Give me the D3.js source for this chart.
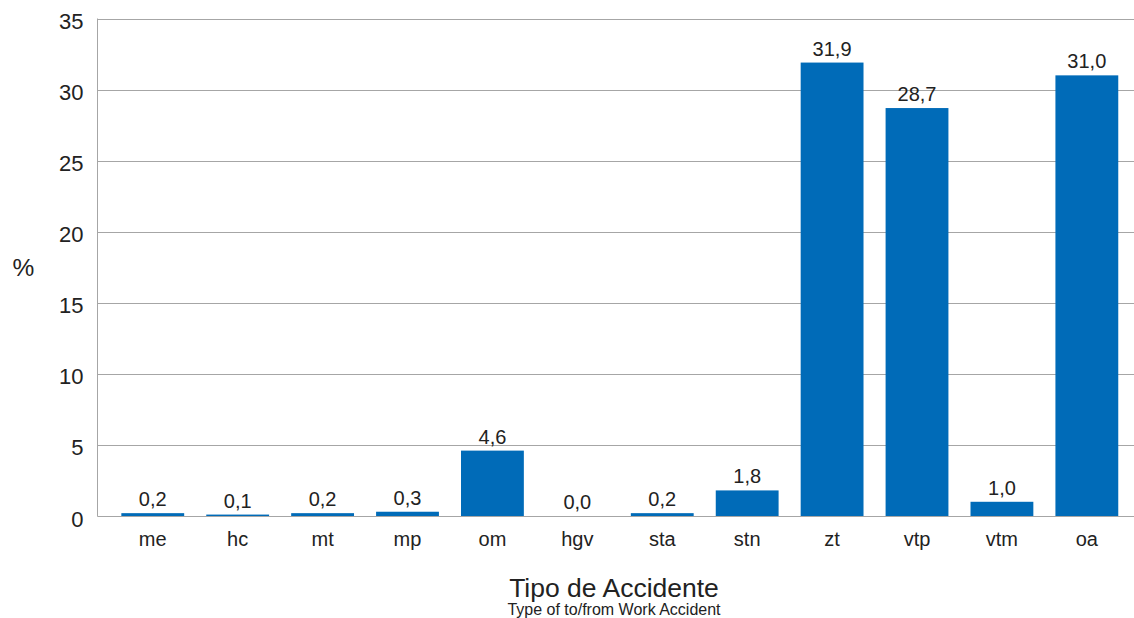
<!DOCTYPE html>
<html><head><meta charset="utf-8">
<script src="https://cdn.jsdelivr.net/npm/d3@7"></script>
<style>body{margin:0;background:#fff}svg{display:block}text{font-family:"Liberation Sans",Arial,sans-serif;fill:#222}</style>
</head><body><svg id="c" width="1134" height="618"></svg>
<script>
const categories = ["me","hc","mt","mp","om","hgv","sta","stn","zt","vtp","vtm","oa"];
const values = [0.2,0.1,0.2,0.3,4.6,0.0,0.2,1.8,31.9,28.7,1.0,31.0];
const yTicks = [0,5,10,15,20,25,30,35];
const yLabel = "%";
const xTitle = "Tipo de Accidente";
const xSubtitle = "Type of to/from Work Accident";

(function(){
const svg = d3.select("#c");
const pl = 97.5, pr = 1134, pt = 18.5, pb = 516;
const x = d3.scaleBand().domain(categories).range([110.3, 1129.3]).paddingInner(0.26).paddingOuter(0.13);
const y = d3.scaleLinear().domain([0,35]).range([pb, pt]);
const fmt = v => v.toFixed(1).replace(".", ",");

svg.append("g").selectAll("line").data(yTicks).join("line")
  .attr("x1", pl).attr("x2", pr)
  .attr("y1", d => Math.round(y(d))+0.5).attr("y2", d => Math.round(y(d))+0.5)
  .attr("stroke", "#a6a6a6").attr("stroke-width", 1);
svg.append("line").attr("x1", pl).attr("x2", pl).attr("y1", y(35)).attr("y2", y(0)+0.5)
  .attr("stroke", "#a6a6a6");

svg.append("g").selectAll("text").data(yTicks).join("text")
  .attr("x", 83.5).attr("y", d => y(d)+10.5).attr("text-anchor","end")
  .attr("font-size", 22).text(d => d);

svg.append("g").selectAll("rect").data(values).join("rect")
  .attr("x", (d,i) => x(categories[i])).attr("width", x.bandwidth())
  .attr("y", d => y(d)).attr("height", d => y(0) - y(d))
  .attr("fill", "#006bb8");

svg.append("g").selectAll("text").data(values).join("text")
  .attr("x", (d,i) => x(categories[i]) + x.bandwidth()/2)
  .attr("y", d => y(d) - 7).attr("text-anchor","middle")
  .attr("font-size", 20).text(fmt);

svg.append("g").selectAll("text").data(categories).join("text")
  .attr("x", d => x(d) + x.bandwidth()/2).attr("y", 546).attr("text-anchor","middle")
  .attr("font-size", 20).text(d => d);

svg.append("text").attr("x", 23.3).attr("y", 276).attr("text-anchor","middle").attr("font-size", 24.5).text(yLabel);
svg.append("text").attr("x", 614).attr("y", 597).attr("text-anchor","middle").attr("font-size", 26.5).text(xTitle);
svg.append("text").attr("x", 614).attr("y", 615).attr("text-anchor","middle").attr("font-size", 16).text(xSubtitle);
})();
</script></body></html>
